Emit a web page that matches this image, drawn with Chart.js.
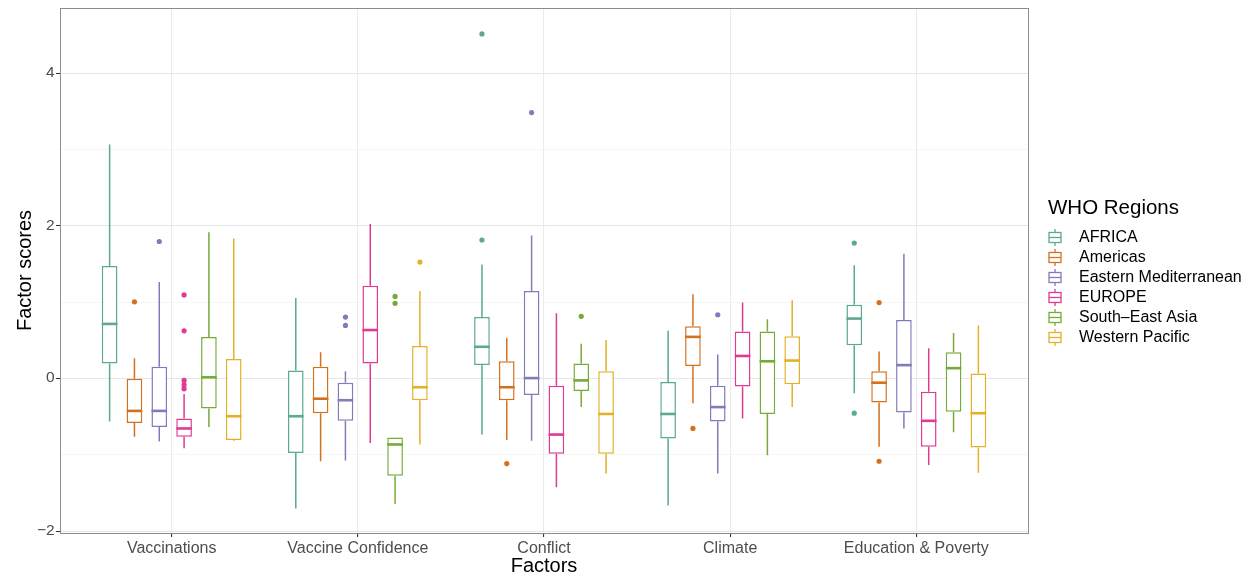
<!DOCTYPE html>
<html>
<head>
<meta charset="utf-8">
<script src="https://cdn.jsdelivr.net/npm/chart.js@4.4.1/dist/chart.umd.min.js"></script>
<style>
  html, body { margin: 0; padding: 0; background: #fff; }
  #wrap { width: 1260px; height: 577px; }
</style>
</head>
<body>
<div id="wrap"><canvas id="boxChart" width="1260" height="577"></canvas></div>
<script>
const FONT = "'Liberation Sans', Arial, sans-serif";

const factors = ['Vaccinations', 'Vaccine Confidence', 'Conflict', 'Climate', 'Education & Poverty'];
const regions = ['AFRICA', 'Americas', 'Eastern Mediterranean', 'EUROPE', 'South\u2013East Asia', 'Western Pacific'];
const regionColors = ['#5aaa8b', '#d4711f', '#807cbb', '#df3a94', '#76aa3a', '#e2b12a'];

// each row: [min whisker, q1, median, q3, max whisker]
const africa = [
    [-0.57, 0.19, 0.71, 1.47, 3.06],
    [-1.71, -0.98, -0.50, 0.10, 1.05],
    [-0.74, 0.17, 0.41, 0.80, 1.49],
    [-1.67, -0.79, -0.47, -0.05, 0.62],
    [-0.20, 0.43, 0.78, 0.96, 1.48]
];
const africaOut = [[], [], [4.51, 1.81], [], [1.77, -0.46]];

const americas = [
    [-0.77, -0.59, -0.43, -0.01, 0.26],
    [-1.09, -0.46, -0.27, 0.15, 0.34],
    [-0.81, -0.29, -0.12, 0.22, 0.53],
    [-0.33, 0.16, 0.54, 0.68, 1.10],
    [-0.90, -0.32, -0.06, 0.09, 0.35]
];
const americasOut = [[1.00], [], [-1.12], [-0.66], [0.99, -1.09]];

const easternMed = [
    [-0.83, -0.64, -0.43, 0.15, 1.26],
    [-1.08, -0.56, -0.29, -0.06, 0.09],
    [-0.82, -0.22, 0.00, 1.14, 1.87],
    [-1.25, -0.57, -0.38, -0.10, 0.31],
    [-0.66, -0.45, 0.17, 0.76, 1.63]
];
const easternMedOut = [[1.79], [0.80, 0.69], [3.48], [0.83], []];

const europe = [
    [-0.92, -0.77, -0.66, -0.53, -0.21],
    [-0.85, 0.19, 0.63, 1.21, 2.02],
    [-1.43, -0.99, -0.74, -0.10, 0.85],
    [-0.53, -0.11, 0.29, 0.61, 0.99],
    [-1.14, -0.90, -0.56, -0.18, 0.39]
];
const europeOut = [[1.09, 0.62, -0.03, -0.09, -0.14], [], [], [], []];

const seAsia = [
    [-0.64, -0.40, 0.01, 0.54, 1.91],
    [-1.65, -1.28, -0.87, -0.78, -0.78],
    [-0.38, -0.17, -0.03, 0.19, 0.45],
    [-1.01, -0.47, 0.22, 0.61, 0.77],
    [-0.71, -0.44, 0.13, 0.34, 0.59]
];
const seAsiaOut = [[], [1.07, 0.98], [0.81], [], []];

const westPacific = [
    [-0.82, -0.81, -0.50, 0.25, 1.83],
    [-0.87, -0.29, -0.12, 0.42, 1.14],
    [-1.25, -0.99, -0.47, 0.09, 0.50],
    [-0.38, -0.08, 0.23, 0.55, 1.02],
    [-1.24, -0.91, -0.46, 0.06, 0.69]
];
const westPacificOut = [[], [1.52], [], [], []];

const regionStats = [africa, americas, easternMed, europe, seAsia, westPacific];
const regionOutliers = [africaOut, americasOut, easternMedOut, europeOut, seAsiaOut, westPacificOut];

const yMin = -2.03;
const yMax = 4.85;

// ggplot style panel is a bit wider than the category area
function panelBounds(chart) {
    const area = chart.chartArea;
    const step = (area.right - area.left) / factors.length;
    return { left: area.left - step * 0.1, right: area.right + step * 0.1, top: area.top, bottom: area.bottom };
}

const panelPlugin = {
    id: 'panel',
    beforeDatasetsDraw(chart) {
        const ctx = chart.ctx;
        const y = chart.scales.y;
        const p = panelBounds(chart);
        ctx.save();
        y.ticks.forEach(t => {
            const py = Math.round(y.getPixelForValue(t.value)) + 0.5;
            const major = t.value % 2 === 0;
            ctx.strokeStyle = major ? '#e6e6e6' : '#f2f2f2';
            ctx.lineWidth = major ? 1.1 : 0.7;
            ctx.beginPath();
            ctx.moveTo(p.left, py);
            ctx.lineTo(p.right, py);
            ctx.stroke();
            if (major) {
                ctx.strokeStyle = '#333';
                ctx.lineWidth = 1;
                ctx.beginPath();
                ctx.moveTo(p.left - 4, py);
                ctx.lineTo(p.left, py);
                ctx.stroke();
            }
        });
        ctx.restore();
    },
    afterDraw(chart) {
        const ctx = chart.ctx;
        const p = panelBounds(chart);
        ctx.save();
        ctx.strokeStyle = '#8c8c8c';
        ctx.lineWidth = 1;
        ctx.strokeRect(Math.round(p.left) + 0.5, Math.round(p.top) + 0.5,
            Math.round(p.right - p.left), Math.round(p.bottom - p.top));
        ctx.restore();
    }
};

const boxPlugin = {
    id: 'boxes',
    afterDatasetsDraw(chart) {
        const ctx = chart.ctx;
        const y = chart.scales.y;
        ctx.save();
        chart.data.datasets.forEach((ds, i) => {
            const meta = chart.getDatasetMeta(i);
            meta.data.forEach((bar, j) => {
                const s = ds.stats[j];
                const x = bar.x;
                const half = bar.width / 2;
                ctx.strokeStyle = ds.borderColor;
                ctx.lineWidth = 1.5;
                ctx.beginPath();
                ctx.moveTo(x, y.getPixelForValue(s[3]));
                ctx.lineTo(x, y.getPixelForValue(s[4]));
                ctx.moveTo(x, y.getPixelForValue(s[1]));
                ctx.lineTo(x, y.getPixelForValue(s[0]));
                ctx.stroke();
                ctx.lineWidth = 2.6;
                ctx.beginPath();
                ctx.moveTo(x - half, y.getPixelForValue(s[2]));
                ctx.lineTo(x + half, y.getPixelForValue(s[2]));
                ctx.stroke();
                ctx.fillStyle = ds.borderColor;
                ds.outliers[j].forEach(v => {
                    ctx.beginPath();
                    ctx.arc(x, y.getPixelForValue(v), 2.6, 0, Math.PI * 2);
                    ctx.fill();
                });
            });
        });
        ctx.restore();
    }
};

const legendPlugin = {
    id: 'whoLegend',
    afterDraw(chart) {
        const ctx = chart.ctx;
        ctx.save();
        ctx.fillStyle = '#000';
        ctx.textBaseline = 'middle';
        ctx.font = '20.5px ' + FONT;
        ctx.fillText('WHO Regions', 1048, 208);
        ctx.font = '16px ' + FONT;
        regions.forEach((r, i) => {
            const cy = 237.5 + i * 20;
            const c = regionColors[i];
            ctx.strokeStyle = c;
            ctx.lineWidth = 1.3;
            ctx.beginPath();
            ctx.moveTo(1055, cy - 8.5);
            ctx.lineTo(1055, cy + 8.5);
            ctx.stroke();
            ctx.fillStyle = '#fff';
            ctx.fillRect(1049, cy - 5, 12, 10);
            ctx.strokeRect(1049, cy - 5, 12, 10);
            ctx.beginPath();
            ctx.moveTo(1049, cy);
            ctx.lineTo(1061, cy);
            ctx.stroke();
            ctx.fillStyle = '#000';
            ctx.fillText(r, 1079, cy + 0.5);
        });
        ctx.restore();
    }
};

const datasets = regions.map((r, i) => ({
    label: r,
    data: regionStats[i].map(s => [s[1], s[3]]),
    stats: regionStats[i],
    outliers: regionOutliers[i],
    backgroundColor: '#ffffff',
    borderColor: regionColors[i],
    borderWidth: 1.5,
    borderSkipped: false,
    categoryPercentage: 0.8,
    barPercentage: 0.63
}));

new Chart(document.getElementById('boxChart').getContext('2d'), {
    type: 'bar',
    data: { labels: factors, datasets: datasets },
    options: {
        responsive: false,
        animation: false,
        layout: { padding: { top: 8, right: 250.6, bottom: 0, left: 0 } },
        plugins: {
            legend: { display: false },
            tooltip: { enabled: false }
        },
        scales: {
            x: {
                offset: true,
                grid: { offset: false, color: '#ebebeb', lineWidth: 1.1, drawTicks: true, tickLength: 4, tickColor: '#333' },
                border: { display: false },
                ticks: { color: '#4d4d4d', font: { family: FONT, size: 16 }, padding: 2, maxRotation: 0 },
                title: { display: true, text: 'Factors', color: '#000', font: { family: FONT, size: 20 }, padding: { top: 0, bottom: -1 } },
                afterFit(scale) { scale.height = 44; }
            },
            y: {
                min: yMin,
                max: yMax,
                grid: { display: false, drawTicks: false },
                border: { display: false },
                ticks: {
                    stepSize: 1,
                    includeBounds: false,
                    color: '#4d4d4d',
                    font: { family: FONT, size: 15.5 },
                    padding: 24,
                    callback: v => (v % 2 === 0 ? (v < 0 ? '\u2212' + Math.abs(v) : String(v)) : '')
                },
                title: { display: true, text: 'Factor scores', color: '#000', font: { family: FONT, size: 20 }, padding: { top: 13, bottom: 0 } },
                afterFit(scale) {
                    scale.width = 78.6;
                    scale.paddingTop = 0;
                    scale.paddingBottom = 0;
                }
            }
        }
    },
    plugins: [panelPlugin, boxPlugin, legendPlugin]
});
</script>
</body>
</html>
